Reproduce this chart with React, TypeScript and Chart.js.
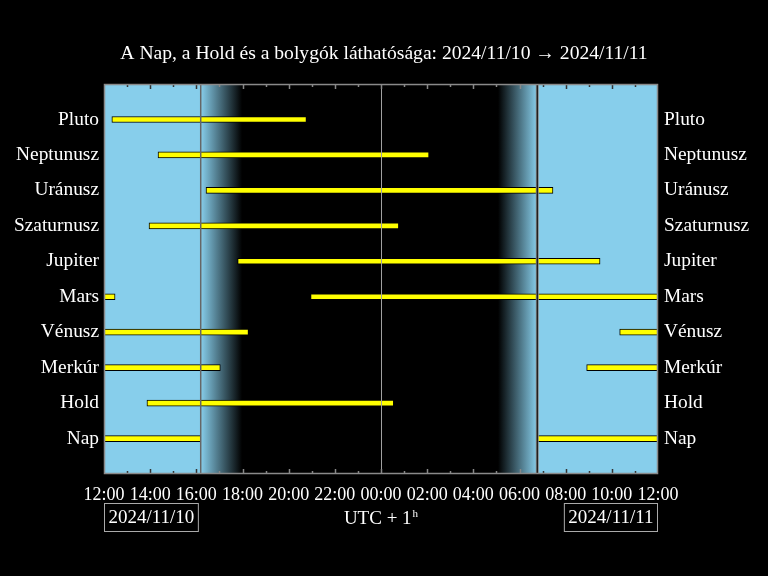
import React, { useEffect, useRef } from 'react';
import { Chart, registerables } from 'chart.js';

Chart.register(...registerables);

// Bodies from top to bottom
const bodies = ['Pluto', 'Neptunusz', 'Uránusz', 'Szaturnusz', 'Jupiter', 'Mars', 'Vénusz', 'Merkúr', 'Hold', 'Nap'];
// Hours since 2024/11/10 00:00 (UTC+1); 36 = 2024/11/11 12:00
const firstStart = [12.34, 14.34, 16.42, 13.95, 17.79, 12.0, 12.0, 12.0, 13.86, 12.0];
const firstEnd = [20.77, 26.08, 31.45, 24.77, 33.49, 12.48, 18.26, 17.04, 24.55, 16.19];
const secondStart = [null, null, null, null, null, 20.95, 34.34, 32.91, null, 30.77];
const secondEnd = [null, null, null, null, null, 36.0, 36.0, 36.0, null, 36.0];

const xMin = 12;
const xMax = 36;
const sunset = 16.19;
const duskEnd = 17.98;
const dawnStart = 29.07;
const sunrise = 30.77;
const midnight = 24;

const titleText = 'A Nap, a Hold és a bolygók láthatósága: 2024/11/10 \u2192 2024/11/11';
const dateLeft = '2024/11/10';
const dateRight = '2024/11/11';
const tzText = 'UTC + 1';
const tzSup = 'h';

const FONT = "'Liberation Serif', 'Times New Roman', serif";
const SKY = '#87ceeb';

const labels = ['', ...bodies, ''];
const seg1 = [null, ...bodies.map((_, i) => [firstStart[i], firstEnd[i]]), null];
const seg2 = [null, ...bodies.map((_, i) => (secondStart[i] == null ? null : [secondStart[i], secondEnd[i]])), null];

const fmtHour = (v: number) => {
  const h = ((v % 24) + 24) % 24;
  return (h < 10 ? '0' : '') + h + ':00';
};

const skyPlugin = {
  id: 'skyPlugin',
  beforeDatasetsDraw(chart: any) {
    const { ctx, chartArea: a, scales } = chart;
    const x = scales.x;
    const px = (v: number) => x.getPixelForValue(v);
    ctx.save();
    ctx.fillStyle = '#000';
    ctx.fillRect(a.left, a.top, a.right - a.left, a.bottom - a.top);
    ctx.fillStyle = SKY;
    ctx.fillRect(a.left, a.top, px(sunset) - a.left, a.bottom - a.top);
    ctx.fillRect(px(sunrise), a.top, a.right - px(sunrise), a.bottom - a.top);
    let g = ctx.createLinearGradient(px(sunset), 0, px(duskEnd), 0);
    g.addColorStop(0, SKY);
    g.addColorStop(1, '#000');
    ctx.fillStyle = g;
    ctx.fillRect(px(sunset), a.top, px(duskEnd) - px(sunset), a.bottom - a.top);
    g = ctx.createLinearGradient(px(dawnStart), 0, px(sunrise), 0);
    g.addColorStop(0, '#000');
    g.addColorStop(1, SKY);
    ctx.fillStyle = g;
    ctx.fillRect(px(dawnStart), a.top, px(sunrise) - px(dawnStart), a.bottom - a.top);
    ctx.restore();
  },
  afterDatasetsDraw(chart: any) {
    const { ctx, chartArea: a, scales } = chart;
    const x = scales.x;
    const px = (v: number) => x.getPixelForValue(v);
    ctx.save();
    // midnight
    ctx.strokeStyle = '#a0a0a0';
    ctx.lineWidth = 1;
    ctx.beginPath();
    ctx.moveTo(Math.round(px(midnight)) + 0.5, a.top);
    ctx.lineTo(Math.round(px(midnight)) + 0.5, a.bottom);
    ctx.stroke();
    // sunset
    ctx.strokeStyle = '#666';
    ctx.lineWidth = 1.5;
    ctx.beginPath();
    ctx.moveTo(px(sunset), a.top);
    ctx.lineTo(px(sunset), a.bottom);
    ctx.stroke();
    // sunrise
    ctx.strokeStyle = '#888';
    ctx.lineWidth = 3;
    ctx.beginPath();
    ctx.moveTo(px(sunrise), a.top);
    ctx.lineTo(px(sunrise), a.bottom);
    ctx.stroke();
    ctx.strokeStyle = '#111';
    ctx.lineWidth = 1.2;
    ctx.beginPath();
    ctx.moveTo(px(sunrise), a.top);
    ctx.lineTo(px(sunrise), a.bottom);
    ctx.stroke();
    // inner tick marks
    for (let h = xMin + 1; h < xMax; h++) {
      const xx = Math.round(px(h)) + 0.5;
      const len = h % 2 === 0 ? 5 : 3;
      const day = h < sunset || h > sunrise;
      ctx.strokeStyle = day ? '#333' : '#888';
      ctx.lineWidth = 1.5;
      ctx.beginPath();
      ctx.moveTo(xx, a.top);
      ctx.lineTo(xx, a.top + len);
      ctx.moveTo(xx, a.bottom);
      ctx.lineTo(xx, a.bottom - len);
      ctx.stroke();
    }
    // frame
    ctx.strokeStyle = '#8a8a8a';
    ctx.lineWidth = 1.5;
    ctx.strokeRect(a.left + 0.5, a.top + 0.5, a.right - a.left - 1, a.bottom - a.top - 1);
    ctx.restore();
  },
  afterDraw(chart: any) {
    const { ctx, chartArea: a, scales } = chart;
    const x = scales.x;
    ctx.save();
    ctx.font = `19px ${FONT}`;
    ctx.fillStyle = '#fff';
    ctx.textBaseline = 'middle';
    ctx.textAlign = 'center';
    const boxY = 503.5;
    const boxH = 28;
    // left date box
    const wL = ctx.measureText(dateLeft).width + 8;
    ctx.strokeStyle = '#aaa';
    ctx.lineWidth = 1;
    ctx.strokeRect(Math.round(a.left) + 0.5, boxY, wL, boxH);
    ctx.fillText(dateLeft, Math.round(a.left) + 0.5 + wL / 2, boxY + boxH / 2 + 1);
    const wR = ctx.measureText(dateRight).width + 8;
    ctx.strokeRect(Math.round(a.right) - 0.5 - wR, boxY, wR, boxH);
    ctx.fillText(dateRight, Math.round(a.right) - 0.5 - wR / 2, boxY + boxH / 2 + 1);
    // timezone label
    const cx = x.getPixelForValue(midnight);
    const w1 = ctx.measureText(tzText).width;
    ctx.font = `11px ${FONT}`;
    const w2 = ctx.measureText(tzSup).width;
    const start = cx - (w1 + w2 + 1) / 2;
    ctx.textAlign = 'left';
    ctx.font = `19px ${FONT}`;
    ctx.fillText(tzText, start, 519);
    ctx.font = `11px ${FONT}`;
    ctx.fillText(tzSup, start + w1 + 1, 514);
    ctx.restore();
  },
};

export default function App() {
  const ref = useRef<HTMLCanvasElement | null>(null);
  useEffect(() => {
    if (!ref.current) return;
    const chart = new Chart(ref.current, {
      type: 'bar',
      data: {
        labels,
        datasets: [
          {
            label: 'visible',
            data: seg1 as any,
            backgroundColor: '#ffff00',
            borderColor: '#000',
            borderWidth: 1,
            borderSkipped: false,
            barThickness: 6,
            grouped: false,
          } as any,
          {
            label: 'visible2',
            data: seg2 as any,
            backgroundColor: '#ffff00',
            borderColor: '#000',
            borderWidth: 1,
            borderSkipped: false,
            barThickness: 6,
            grouped: false,
          } as any,
        ],
      },
      options: {
        indexAxis: 'y',
        animation: false,
        responsive: false,
        maintainAspectRatio: false,
        layout: { padding: 0 },
        plugins: {
          legend: { display: false },
          tooltip: { enabled: false },
          title: {
            display: true,
            text: titleText,
            color: '#fff',
            font: { family: FONT, size: 19.6, weight: 'normal' },
            padding: { top: 42, bottom: 18.5 },
          },
        },
        scales: {
          x: {
            type: 'linear',
            position: 'bottom',
            min: xMin,
            max: xMax,
            grid: { display: false, drawTicks: false },
            border: { display: false },
            ticks: {
              stepSize: 2,
              color: '#fff',
              padding: 10,
              maxRotation: 0,
              autoSkip: false,
              font: { family: FONT, size: 18 },
              callback: (v: any) => fmtHour(Number(v)),
            },
            afterFit: (s: any) => {
              s.height = 102;
            },
          },
          y: {
            type: 'category',
            position: 'left',
            offset: false,
            min: 0,
            max: labels.length - 1,
            grid: { display: false, drawTicks: false },
            border: { display: false },
            ticks: {
              color: '#fff',
              padding: 5,
              autoSkip: false,
              font: { family: FONT, size: 19.4 },
            },
            afterFit: (s: any) => {
              s.width = 104;
            },
          },
          y2: {
            type: 'category',
            position: 'right',
            labels,
            offset: false,
            min: 0,
            max: labels.length - 1,
            grid: { display: false, drawTicks: false },
            border: { display: false },
            ticks: {
              color: '#fff',
              padding: 6,
              autoSkip: false,
              font: { family: FONT, size: 19.4 },
            },
            afterFit: (s: any) => {
              s.width = 110;
            },
          },
        },
      } as any,
      plugins: [skyPlugin],
    });
    return () => chart.destroy();
  }, []);
  return (
    <div style={{ position: 'fixed', left: 0, top: 0, width: 768, height: 576, background: '#000' }}>
      <canvas ref={ref} width={768} height={576} style={{ display: 'block', width: 768, height: 576 }} />
    </div>
  );
}
